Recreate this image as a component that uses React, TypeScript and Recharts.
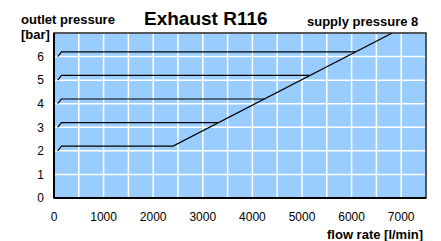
import { LineChart, Line, XAxis, YAxis, CartesianGrid, ReferenceArea } from "recharts"

const xTicks = [0, 500, 1000, 1500, 2000, 2500, 3000, 3500, 4000, 4500, 5000, 5500, 6000, 6500, 7000, 7500]
const yTicks = [0, 1, 2, 3, 4, 5, 6, 7]

// outlet pressure curves (flow in l/min, pressure in bar)
const flow2 = [75, 150, 2400, 6820]
const pressure2 = [2.0, 2.2, 2.2, 7.0]
const flow3 = [75, 150, 3300]
const pressure3 = [3.0, 3.2, 3.2]
const flow4 = [75, 150, 4240]
const pressure4 = [4.0, 4.2, 4.2]
const flow5 = [75, 150, 5160]
const pressure5 = [5.0, 5.2, 5.2]
const flow6 = [75, 150, 6080]
const pressure6 = [6.0, 6.2, 6.2]

const zip = (xs: number[], ys: number[]) => xs.map((x, i) => ({ flow: x, p: ys[i] }))

const curves = [
  zip(flow2, pressure2),
  zip(flow3, pressure3),
  zip(flow4, pressure4),
  zip(flow5, pressure5),
  zip(flow6, pressure6),
]

const font = "'Liberation Sans', Arial, Helvetica, sans-serif"

export default function App() {
  return (
    <div style={{ position: "absolute", left: 0, top: 0, width: 441, height: 241, background: "#fff", fontFamily: font }}>
      <LineChart width={441} height={241} margin={{ top: 33, right: 15, bottom: 0, left: 0 }}>
        <CartesianGrid fill="#99ccff" fillOpacity={1} stroke="#ffffff" strokeWidth={1.5} />
        <ReferenceArea x1={0} x2={7500} y1={0} y2={7} fill="none" stroke="#222" strokeWidth={1.5} ifOverflow="visible" />
        <XAxis
          type="number"
          dataKey="flow"
          domain={[0, 7500]}
          ticks={xTicks}
          allowDataOverflow
          tickFormatter={(v: number) => (v % 1000 === 0 ? String(v) : "")}
          tickLine={false}
          tickSize={0}
          tickMargin={14}
          height={43}
          axisLine={{ stroke: "#000", strokeWidth: 2 }}
          tick={{ fill: "#000", fontSize: 12, fontFamily: font }}
        />
        <YAxis
          type="number"
          dataKey="p"
          domain={[0, 7]}
          ticks={yTicks}
          allowDataOverflow
          tickFormatter={(v: number) => (v === 7 ? "" : String(v))}
          tickLine={false}
          tickSize={0}
          tickMargin={10}
          width={54}
          axisLine={{ stroke: "#000", strokeWidth: 2 }}
          tick={{ fill: "#000", fontSize: 12, fontFamily: font }}
        />
        {curves.map((c, i) => (
          <Line
            key={i}
            data={c}
            dataKey="p"
            type="linear"
            stroke="#000"
            strokeWidth={1.2}
            dot={false}
            activeDot={false}
            isAnimationActive={false}
          />
        ))}
      </LineChart>
      <div style={{ position: "absolute", left: 21, top: 12, fontSize: 13, fontWeight: "bold", lineHeight: "15px" }}>
        outlet pressure
      </div>
      <div style={{ position: "absolute", left: 21, top: 27, fontSize: 13, fontWeight: "bold", lineHeight: "15px" }}>
        [bar]
      </div>
      <div style={{ position: "absolute", left: 144, top: 8, fontSize: 19, fontWeight: "bold", lineHeight: "22px" }}>
        Exhaust R116
      </div>
      <div style={{ position: "absolute", left: 307, top: 14, fontSize: 13, fontWeight: "bold", lineHeight: "15px" }}>
        supply pressure 8
      </div>
      <div style={{ position: "absolute", left: 327, top: 227, fontSize: 13, fontWeight: "bold", lineHeight: "15px" }}>
        flow rate [l/min]
      </div>
    </div>
  )
}
